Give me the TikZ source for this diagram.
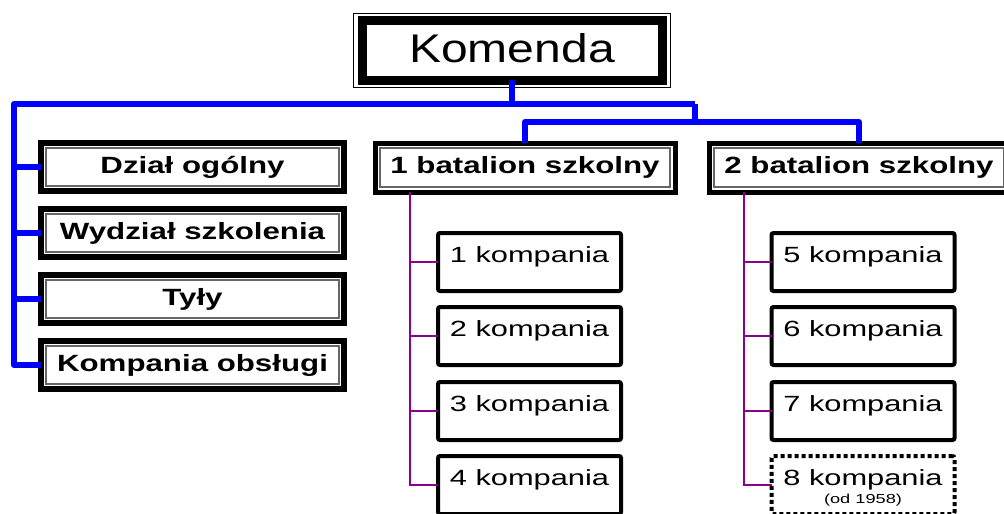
\documentclass[tikz,border=0pt]{standalone}
\usepackage{fontspec}
\setmainfont{Liberation Sans}
\newfontfamily\headfont[FakeStretch=1.2]{Liberation Sans}
\newfontfamily\boxfont[FakeStretch=1.33]{Liberation Sans}
\newfontfamily\kompfont[FakeStretch=1.4]{Liberation Sans}
\usetikzlibrary{calc}
\definecolor{linkblue}{RGB}{0,0,255}
\definecolor{linkpurple}{RGB}{139,0,139}
\tikzset{
  headbox/.style={draw, line width=9pt, outer sep=0pt, inner sep=0pt,
    minimum width=300pt, minimum height=60pt, text depth=4pt,
    font=\headfont\fontsize{40}{40}\selectfont},
  deptbox/.style={draw, line width=6pt, outer sep=0pt, inner sep=0pt,
    minimum width=303pt, minimum height=48pt, text height=16.5pt, text depth=4.5pt,
    font=\boxfont\bfseries\fontsize{23.5}{24}\selectfont},
  batbox/.style={deptbox, line width=5pt, minimum width=300pt, minimum height=49pt},
  compbox/.style={draw, line width=4pt, rounded corners=2pt, outer sep=0pt, inner sep=0pt,
    minimum width=183pt, minimum height=58pt, align=center,
    font=\kompfont\fontsize{22}{22}\selectfont},
  newcompbox/.style={compbox, dash pattern=on 4pt off 3pt},
  innerline/.style={line width=1.2pt, black!60},
  outerline/.style={line width=1pt},
  bluelink/.style={line width=6pt, linkblue, line join=round},
  purplelink/.style={line width=1.5pt, linkpurple}
}
\newcommand{\sublabel}[1]{{\kompfont\fontsize{13}{13}\selectfont #1}}
\newcommand{\kompanie}[2]{\rule{0pt}{22pt}#1\\[-4pt]\sublabel{#2}}

\begin{document}
\begin{tikzpicture}[x=1pt, y=-1pt]
                \clip (0,0) rectangle (1004,514);

                % headquarters
                \node[headbox] (komenda) at (512,50) {Komenda};
                \draw[outerline] ([shift={(-9,-7)}]komenda.north west) rectangle ([shift={(8,7)}]komenda.south east);

                % staff sections
                \node[deptbox] (ogolny) at (192.5,167) {Dział ogólny};
                \node[deptbox] (szkolenie) at (192.5,233) {Wydział szkolenia};
                \node[deptbox] (tyly) at (192.5,299) {Tyły};
                \node[deptbox] (obsluga) at (192.5,365) {Kompania obsługi};

                % battalions
                \node[batbox] (bat1) at (525,167.5) {1 batalion szkolny};
                \node[batbox] (bat2) at (859,167.5) {2 batalion szkolny};

                % inner thin frames
                \foreach \n in {ogolny,szkolenie,tyly,obsluga,bat1,bat2}
                  \draw[innerline] ([shift={(5,5)}]\n.north west) rectangle ([shift={(-5,-5)}]\n.south east);

                % companies of 1 batalion
                \node[compbox] (k1) at (529.5,262) {\kompanie{1 kompania}{\phantom{(od 1958)}}};
                \node[compbox] (k2) at (529.5,336) {\kompanie{2 kompania}{\phantom{(od 1958)}}};
                \node[compbox] (k3) at (529.5,411) {\kompanie{3 kompania}{\phantom{(od 1958)}}};
                \node[compbox] (k4) at (529.5,485) {\kompanie{4 kompania}{\phantom{(od 1958)}}};

                % companies of 2 batalion
                \node[compbox] (k5) at (863,262) {\kompanie{5 kompania}{\phantom{(od 1958)}}};
                \node[compbox] (k6) at (863,336) {\kompanie{6 kompania}{\phantom{(od 1958)}}};
                \node[compbox] (k7) at (863,411) {\kompanie{7 kompania}{\phantom{(od 1958)}}};
                \node[newcompbox] (k8) at (863,485) {\kompanie{8 kompania}{(od 1958)}};

                % bus points
                \coordinate (bus) at (14,104);
                \coordinate (split) at (695,104);
                \coordinate (batbus) at (695,122);
                \coordinate (trunk1) at (410,0);
                \coordinate (trunk2) at (744,0);

                % komenda to bus
                \draw[bluelink] (komenda.south) -- (komenda.south |- bus);
                % bus to staff sections
                \draw[bluelink] (split) -- (bus) |- (obsluga.west);
                \foreach \n in {ogolny,szkolenie,tyly}
                  \draw[bluelink] (bus |- \n.west) -- (\n.west);
                % bus to battalions
                \draw[bluelink] (split) -- (batbus);
                \draw[bluelink] (bat1.north) |- (batbus) -| (bat2.north);

                % bat1 to its companies
                \draw[purplelink] (trunk1 |- bat1.south) |- (k4.west);
                \foreach \k in {k1,k2,k3}
                  \draw[purplelink] (trunk1 |- \k.west) -- (\k.west);
                % bat2 to its companies
                \draw[purplelink] (trunk2 |- bat2.south) |- (k8.west);
                \foreach \k in {k5,k6,k7}
                  \draw[purplelink] (trunk2 |- \k.west) -- (\k.west);
            \end{tikzpicture}
\end{document}
